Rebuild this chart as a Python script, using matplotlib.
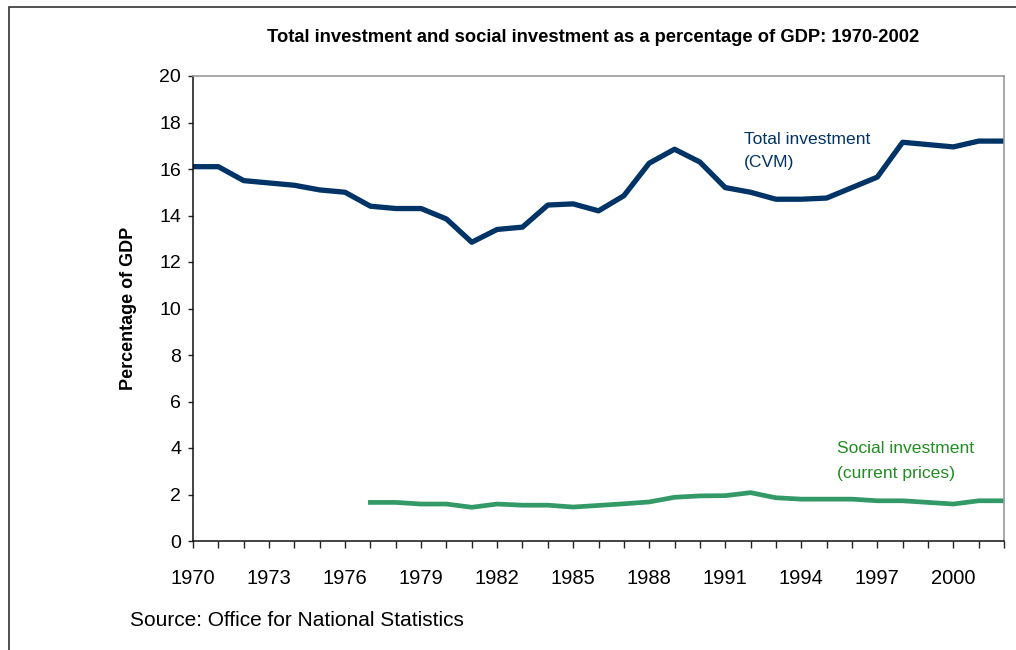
import matplotlib
matplotlib.use("Agg")
import matplotlib.pyplot as plt
from matplotlib.patches import Rectangle

years_total = list(range(1970, 2003))
total_investment = [16.1, 16.1, 15.5, 15.4, 15.3, 15.1, 15.0, 14.4, 14.3, 14.3, 13.85,
                    12.85, 13.4, 13.5, 14.45, 14.5, 14.2, 14.85, 16.25, 16.85, 16.3,
                    15.2, 15.0, 14.7, 14.7, 14.75, 15.2, 15.65, 17.15, 17.05, 16.95,
                    17.2, 17.2]
years_social = list(range(1977, 2003))
social_investment = [1.66, 1.66, 1.59, 1.59, 1.45, 1.59, 1.54, 1.54, 1.46, 1.53, 1.6,
                     1.68, 1.88, 1.94, 1.95, 2.08, 1.86, 1.8, 1.8, 1.8, 1.73, 1.73,
                     1.66, 1.59, 1.73, 1.73]
xtick_labels = list(range(1970, 2001, 3))
yticks = list(range(0, 21, 2))

plt.rcParams['font.family'] = ['Liberation Sans', 'DejaVu Sans']

fig = plt.figure(figsize=(10.16, 6.5), dpi=100)
# figure border (top and left visible)
fig.patches.append(Rectangle((9/1016, -0.1), 1.2, 1 - 7/650 + 0.1, transform=fig.transFigure,
                             fill=False, edgecolor='#333333', linewidth=1.2))

ax = fig.add_axes([193/1016, 1 - 541/650, (1004 - 193)/1016, (541 - 76)/650])
navy = '#003366'
green = '#339966'
ax.plot(years_total, total_investment, color=navy, linewidth=3.8)
ax.plot(years_social, social_investment, color=green, linewidth=3.4)

ax.set_xlim(1970, 2002)
ax.set_ylim(0, 20)
ax.set_xticks(years_total, minor=True)
ax.set_xticks(xtick_labels)
ax.set_xticklabels([str(y) for y in xtick_labels], fontsize=14.5)
ax.set_yticks(yticks)
ax.set_yticklabels([str(v) for v in yticks], fontsize=14)
ax.tick_params(axis='x', which='both', direction='out', length=5, width=1, color='#222222', pad=15)
ax.tick_params(axis='y', direction='out', length=3.5, width=1, color='#222222', pad=5)

for s in ['top', 'right']:
    ax.spines[s].set_color('#999999')
    ax.spines[s].set_linewidth(1.2)
for s in ['left', 'bottom']:
    ax.spines[s].set_color('#111111')
    ax.spines[s].set_linewidth(1.1)

ax.set_ylabel('Percentage of GDP', fontsize=13, fontweight='bold', labelpad=16)

ax.text(1991.75, 17.25, 'Total investment', color=navy, fontsize=12.6, va='center', ha='left')
ax.text(1991.75, 16.26, '(CVM)', color=navy, fontsize=12.6, va='center', ha='left')
ax.text(1995.4, 3.96, 'Social investment', color='#228B22', fontsize=12.6, va='center', ha='left')
ax.text(1995.4, 2.92, '(current prices)', color='#228B22', fontsize=12.6, va='center', ha='left')

fig.text(593/1016, 1 - 37/650, 'Total investment and social investment as a percentage of GDP: 1970-2002',
         ha='center', va='center', fontsize=13.2, fontweight='bold')
fig.text(130/1016, 1 - 620/650, 'Source: Office for National Statistics', ha='left', va='center', fontsize=15)

fig.savefig('out.png', dpi=100)
